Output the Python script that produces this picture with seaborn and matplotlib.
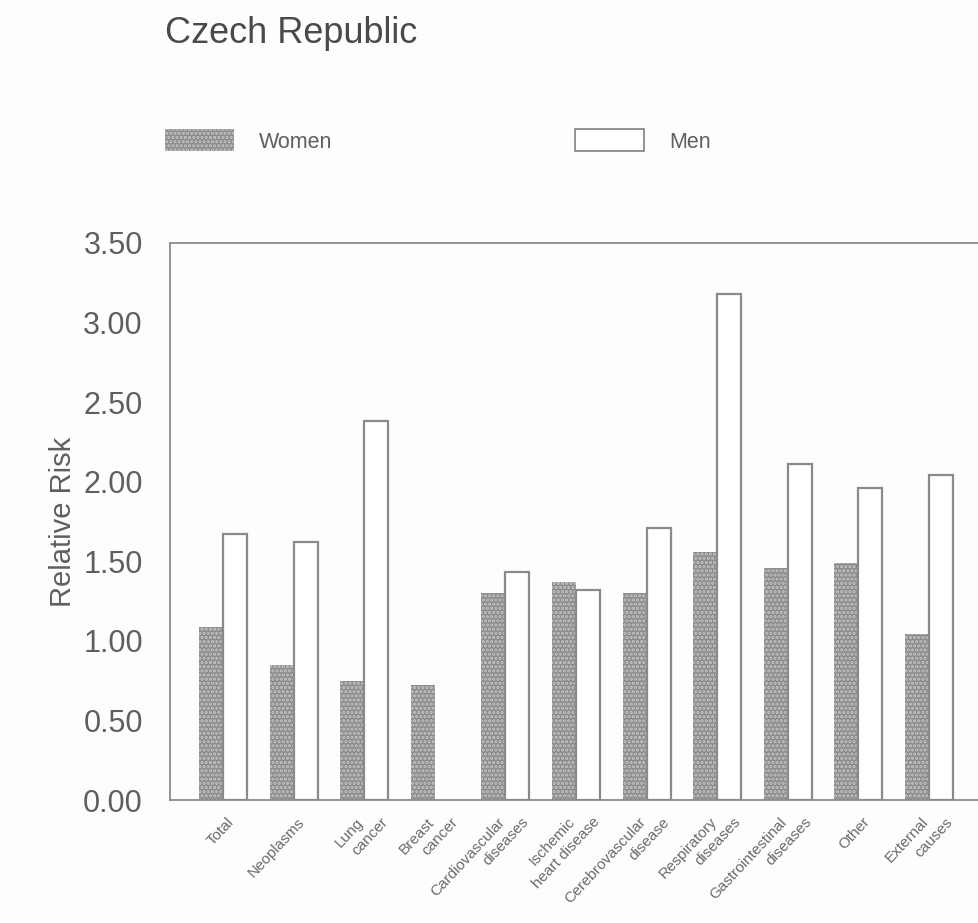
import matplotlib
matplotlib.use("Agg")
import matplotlib.pyplot as plt
import matplotlib.transforms as mtransforms
from matplotlib.patches import Patch
import numpy as np
import pandas as pd
import seaborn as sns

# Relative risk of death by cause, Czech Republic
causes = [
    "Total", "Neoplasms", "Lung\ncancer", "Breast\ncancer",
    "Cardiovascular\ndiseases", "Ischemic\nheart disease",
    "Cerebrovascular\ndisease", "Respiratory\ndiseases",
    "Gastrointestinal\ndiseases", "Other", "External\ncauses",
]
women = [1.09, 0.85, 0.75, 0.72, 1.30, 1.37, 1.30, 1.56, 1.46, 1.49, 1.04]
men = [1.67, 1.62, 2.38, np.nan, 1.43, 1.32, 1.71, 3.18, 2.11, 1.96, 2.04]
yticks = [0.0, 0.5, 1.0, 1.5, 2.0, 2.5, 3.0, 3.5]

df = pd.DataFrame({
    "cause": causes * 2,
    "sex": ["Women"] * len(causes) + ["Men"] * len(causes),
    "rr": women + men,
})

sns.set_style("white")
plt.rcParams["font.family"] = ["Liberation Sans", "DejaVu Sans"]
plt.rcParams["hatch.color"] = "#c4c4c4"
plt.rcParams["hatch.linewidth"] = 1.6

W, H = 979, 923
fig = plt.figure(figsize=(W / 100, H / 100), dpi=100, facecolor="#fdfdfd")
ax = fig.add_axes([170 / W, 1 - 800 / H, 1 - 170 / W, (800 - 243) / H])
ax.set_facecolor("#fdfdfd")

women_col = "#8b8b8b"
edge_col = "#8a8a8a"
text_col = "#5f5f5f"
sns.barplot(data=df, x="cause", y="rr", hue="sex", order=causes,
            hue_order=["Women", "Men"],
            palette={"Women": women_col, "Men": "white"},
            width=0.68, gap=0, saturation=1, legend=False, ax=ax)

for patch in ax.containers[0]:
    patch.set_facecolor(women_col)
    patch.set_edgecolor("#c4c4c4")
    patch.set_linewidth(0)
    patch.set_hatch("....")
for patch in ax.containers[1]:
    patch.set_facecolor("white")
    patch.set_edgecolor(edge_col)
    patch.set_linewidth(1.6)

ax.set_xlim(-0.75, 10.71)
ax.set_ylim(0, 3.5)
ax.set_yticks(yticks)
ax.set_yticklabels([f"{v:.2f}" for v in yticks], fontsize=22, color=text_col)
ax.tick_params(axis="y", direction="in", length=10, width=1.1, color=edge_col, pad=19.5)
ax.set_xticks(range(len(causes)))
ax.set_xticklabels([])
ax.tick_params(axis="x", length=0)
ax.set_xlabel("")
ax.set_ylabel("Relative Risk", fontsize=21, color=text_col)
ax.yaxis.set_label_coords(-(170 - 77) / (W - 170), 0.5)

for side in ["left", "bottom", "top"]:
    ax.spines[side].set_color(edge_col)
    ax.spines[side].set_linewidth(1.3)
    ax.spines[side].set_visible(True)
ax.spines["right"].set_visible(False)

# Rotated category labels: each line rotated on its own, lines stepped sideways
base = mtransforms.blended_transform_factory(ax.transData, ax.transAxes)
step_px = 24
for i, lab in enumerate(causes):
    lines = lab.split("\n")
    n = len(lines)
    for k, line in enumerate(lines):
        dx = 4 + (k - (n - 1) / 2) * step_px
        shift = mtransforms.ScaledTranslation(dx / 100, -15 / 100, fig.dpi_scale_trans)
        ax.text(i, 0, line, transform=base + shift, rotation=47,
                rotation_mode="anchor", ha="right", va="top",
                fontsize=11, color="#6a6a6a")

fig.text(165 / W, 1 - 43 / H, "Czech Republic", fontsize=26, color="#4a4a4a",
         ha="left", va="baseline")

handles = [
    Patch(facecolor=women_col, edgecolor="#c4c4c4", hatch="....", linewidth=0),
    Patch(facecolor="white", edgecolor=edge_col, linewidth=1.3),
]
fs = 15.5
em = fs * 100 / 72
fig.legend(handles, ["Women", "Men"], loc="center left",
           bbox_to_anchor=(165 / W, 1 - 141 / H), ncol=2, frameon=False,
           fontsize=fs, labelcolor=text_col, handlelength=69 / em,
           handleheight=25 / em, handletextpad=25 / em, columnspacing=243 / em,
           borderaxespad=0, borderpad=0)

fig.savefig("out.png", dpi=100, facecolor=fig.get_facecolor())
